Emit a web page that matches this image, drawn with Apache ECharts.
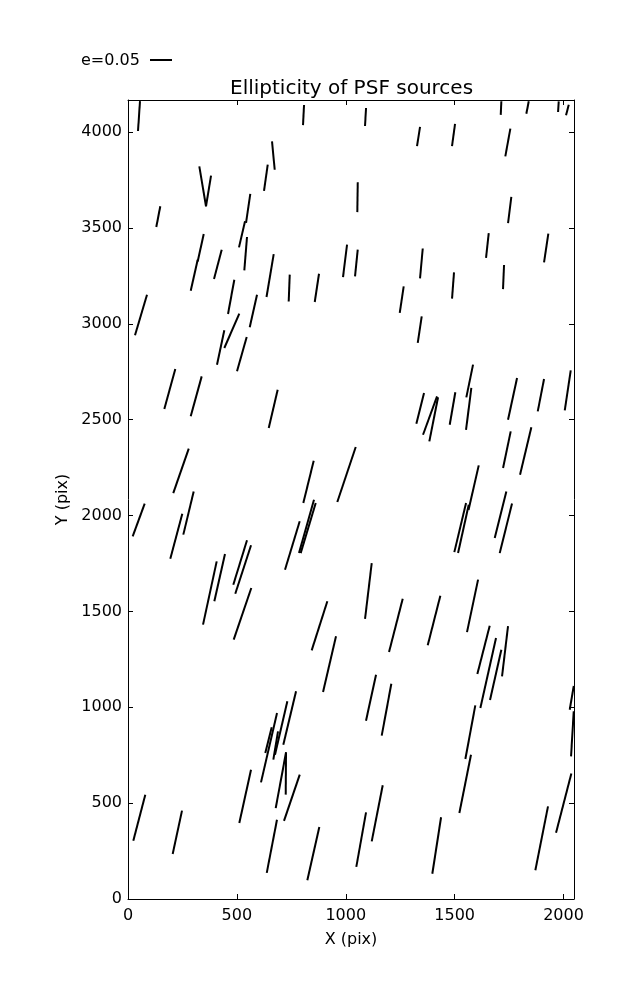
<!DOCTYPE html>
<html>
<head>
<meta charset="utf-8">
<script src="https://cdn.jsdelivr.net/npm/echarts@6/dist/echarts.min.js"></script>
<style>
html,body{margin:0;padding:0;background:#fff;}
#chart{width:637px;height:1000px;}
</style>
</head>
<body>
<div id="chart"></div>
<script>
// Whisker centres (pix), ellipticity and position angle (deg from +X)
const xs = [50.5,806.0,1090.7,1334.1,1494.8,1713.0,1834.7,1976.3,2017.7,1744.2,
667.5,633.1,342.8,369.7,139.1,551.8,523.5,1054.0,1752.7,333.9,
304.0,540.3,412.6,652.6,996.6,1048.7,1347.2,1650.3,1920.3,1724.4,
1492.5,473.7,575.7,59.7,740.3,867.3,1256.9,476.7,425.5,522.8,
1339.6,192.0,313.2,666.8,1341.7,1386.9,1403.7,1490.2,1569.0,1564.4,
1765.8,1896.0,2019.3,1739.8,1826.2,243.4,1003.4,828.9,1587.1,1710.7,
277.8,49.1,221.8,819.7,827.5,754.7,1525.4,1540.1,1735.2,375.9,
420.9,515.0,528.8,525.8,1103.8,879.4,1230.1,925.4,1405.3,1582.1,
1632.6,1654.0,1688.4,1731.3,2037.6,1115.9,1187.1,742.4,703.3,647.5,
645.2,678.1,724.9,702.0,752.5,538.0,51.9,226.6,660.6,851.0,
1070.7,1144.4,1572.0,1548.3,1417.5,1899.6,2000.7,2040.6];
const ys = [4083.4,4088.6,4078.2,3976.5,3984.3,4125.1,4127.8,4132.2,4114.7,3945.2,
3877.4,3761.6,3716.8,3692.3,3558.5,3601.8,3466.5,3660.2,3593.2,3396.9,
3253.2,3365.6,3309.8,3251.6,3328.0,3316.8,3314.7,3408.1,3395.0,3243.8,
3199.5,3140.3,3066.5,3045.6,3186.4,3187.2,3125.7,2963.0,2876.1,2841.4,
2969.2,2659.7,2621.6,2556.2,2558.8,2521.5,2501.7,2558.0,2701.4,2556.2,
2608.3,2627.6,2652.9,2343.4,2336.4,2232.8,2213.8,2175.5,2145.2,2004.4,
2013.0,1976.5,1892.0,1943.4,1934.8,1843.5,1937.4,1930.4,1933.0,1595.8,
1675.9,1754.9,1718.4,1487.1,1606.3,1424.8,1427.1,1224.8,1452.4,1528.8,
1299.3,1178.6,1169.0,1291.8,1049.0,1049.8,987.2,943.9,891.8,789.3,
828.4,800.5,654.5,619.8,528.3,535.3,424.0,347.6,274.6,236.5,
309.5,446.9,870.1,600.5,279.0,316.6,499.6,861.5];
const es = [0.068,0.046,0.041,0.044,0.051,0.031,0.029,0.024,0.025,0.064,
0.065,0.060,0.092,0.071,0.048,0.067,0.061,0.068,0.060,0.064,
0.072,0.076,0.069,0.099,0.074,0.061,0.068,0.057,0.066,0.055,
0.060,0.079,0.076,0.096,0.061,0.065,0.061,0.085,0.080,0.081,
0.061,0.094,0.094,0.089,0.072,0.093,0.102,0.075,0.076,0.096,
0.097,0.075,0.092,0.085,0.111,0.107,0.132,0.099,0.104,0.109,
0.101,0.079,0.106,0.126,0.119,0.115,0.115,0.112,0.116,0.147,
0.110,0.106,0.116,0.124,0.128,0.117,0.125,0.130,0.116,0.122,
0.113,0.163,0.117,0.115,0.055,0.107,0.120,0.125,0.125,0.162,
0.060,0.065,0.096,0.129,0.111,0.124,0.108,0.101,0.123,0.124,
0.126,0.130,0.124,0.135,0.130,0.148,0.139,0.103];
const thetas = [86.2,87.1,86.8,81.0,82.2,87.4,79.0,86.3,75.7,79.7,
95.4,81.9,99.5,80.7,79.1,81.7,77.0,89.2,82.8,77.6,
77.3,85.4,75.3,80.5,82.9,84.2,84.8,83.8,81.5,87.6,
85.7,79.6,77.4,73.5,87.8,81.4,81.5,66.4,78.0,74.2,
81.5,74.6,74.6,76.8,75.9,70.0,78.8,80.2,78.4,82.8,
77.8,79.0,81.5,78.2,76.6,70.8,71.5,76.2,77.1,76.0,
76.5,69.8,75.1,74.3,73.3,73.1,76.6,77.5,76.0,77.8,
77.3,72.9,72.0,71.2,83.2,72.3,75.6,76.9,75.7,78.1,
75.6,77.4,77.3,83.2,80.4,77.7,79.5,76.6,77.0,77.0,
76.0,80.6,89.6,79.5,71.2,77.6,75.4,77.9,79.1,77.3,
79.9,78.9,79.5,78.7,81.2,78.8,75.5,86.6];
const xTicks = [0,500,1000,1500,2000];
const yTicks = [0,500,1000,1500,2000,2500,3000,3500,4000];
const keyE = 0.05;
const xRange = [0, 2048];
const yRange = [0, 4167];

const E_SCALE = 440; // pixels per unit ellipticity
const FONT = 'DejaVu Sans';

const n = Math.min(xs.length, ys.length, es.length, thetas.length);
const data = [];
for (let i = 0; i < n; i++) data.push([xs[i], ys[i], es[i], thetas[i]]);

const chart = echarts.init(document.getElementById('chart'), null, {renderer: 'canvas'});

function axisCommon(showLabel) {
  return {
    axisLine: {show: true, onZero: false, lineStyle: {color: '#000', width: 1}},
    axisTick: {show: true, inside: true, length: 5, lineStyle: {color: '#000', width: 1}},
    splitLine: {show: false},
    axisLabel: {show: showLabel, color: '#000', fontFamily: FONT, fontSize: 16, showMaxLabel: false}
  };
}

const xa = (pos, lab) => Object.assign({
  type: 'value', position: pos, min: xRange[0], max: xRange[1], interval: 500
}, axisCommon(lab));
const ya = (pos, lab) => Object.assign({
  type: 'value', position: pos, min: yRange[0], max: yRange[1], interval: 500
}, axisCommon(lab));

const xBottom = xa('bottom', true);
xBottom.axisLabel.margin = 9;
xBottom.axisLabel.formatter = v => xTicks.indexOf(v) >= 0 ? String(v) : '';
xBottom.name = 'X (pix)';
xBottom.nameLocation = 'middle';
xBottom.nameGap = 33;
xBottom.nameTextStyle = {color: '#000', fontFamily: FONT, fontSize: 16};
const xTop = xa('top', false);
const yLeft = ya('left', true);
yLeft.axisLabel.margin = 6;
yLeft.axisLabel.padding = [8, 0, 0, 0];
yLeft.axisLabel.formatter = v => yTicks.indexOf(v) >= 0 ? String(v) : '';
yLeft.name = 'Y (pix)';
yLeft.nameLocation = 'middle';
yLeft.nameGap = 57;
yLeft.nameTextStyle = {color: '#000', fontFamily: FONT, fontSize: 16};
const yRight = ya('right', false);

const keyLen = keyE * E_SCALE;

chart.setOption({
  animation: false,
  backgroundColor: '#fff',
  grid: {left: 128, top: 100, width: 446, height: 799, containLabel: false},
  xAxis: [xBottom, xTop],
  yAxis: [yLeft, yRight],
  graphic: [
    {type: 'text', left: 230, top: 79, style: {text: 'Ellipticity of PSF sources', fill: '#000', font: '20px "DejaVu Sans"'}},
    {type: 'text', left: 81, top: 53, style: {text: 'e=' + keyE.toFixed(2), fill: '#000', font: '16px "DejaVu Sans"'}},
    {type: 'line', shape: {x1: 150, y1: 60, x2: 150 + keyLen, y2: 60}, style: {stroke: '#000', lineWidth: 2}}
  ],
  series: [{
    type: 'custom',
    xAxisIndex: 0,
    yAxisIndex: 0,
    clip: true,
    encode: {x: 0, y: 1},
    data: data,
    renderItem: function (params, api) {
      const c = api.coord([api.value(0), api.value(1)]);
      const half = api.value(2) * E_SCALE / 2;
      const t = api.value(3) * Math.PI / 180;
      const dx = Math.cos(t) * half, dy = Math.sin(t) * half;
      const cs = params.coordSys;
      return {
        type: 'line',
        shape: {x1: c[0] - dx, y1: c[1] + dy, x2: c[0] + dx, y2: c[1] - dy},
        style: {stroke: '#000', lineWidth: 2},
        clipPath: {type: 'rect', shape: {x: cs.x, y: cs.y, width: cs.width, height: cs.height}}
      };
    }
  }]
});
</script>
</body>
</html>
